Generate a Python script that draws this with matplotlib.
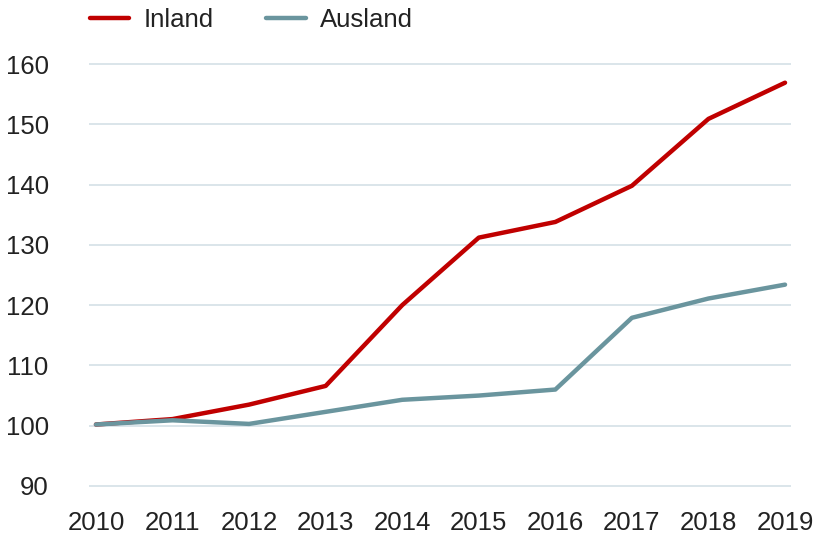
import matplotlib
matplotlib.use("Agg")
import matplotlib.pyplot as plt

years = [2010, 2011, 2012, 2013, 2014, 2015, 2016, 2017, 2018, 2019]
inland = [100.2, 101.1, 103.5, 106.6, 120.0, 131.2, 133.8, 139.8, 150.9, 156.9]
ausland = [100.2, 100.9, 100.3, 102.3, 104.3, 105.0, 106.0, 117.9, 121.1, 123.4]
yticks = [90, 100, 110, 120, 130, 140, 150, 160]

plt.rcParams['font.family'] = ['Liberation Sans', 'DejaVu Sans']

W, H = 815, 538
fig = plt.figure(figsize=(W/100, H/100), dpi=100)
left, right = 89, 791
top, bottom = 62.8, 487.2
ax = fig.add_axes([left/W, 1-bottom/H, (right-left)/W, (bottom-top)/H])

red = '#C00000'
teal = '#6A959E'
ax.plot(years, inland, color=red, lw=3.2, solid_capstyle='round', solid_joinstyle='round', label='Inland', zorder=3)
ax.plot(years, ausland, color=teal, lw=3.2, solid_capstyle='round', solid_joinstyle='round', label='Ausland', zorder=3)

ax.set_xlim(2009.909, 2019.078)
ax.set_ylim(89.8, 160.2)
ax.set_yticks(yticks)
ax.set_xticks(years)
ax.set_xticklabels([str(y) for y in years])
for y in yticks:
    ax.axhline(y, color='#D8E3E8', lw=1.3, zorder=1)
for s in ax.spines.values():
    s.set_visible(False)
ax.tick_params(axis='both', length=0, labelsize=18.5, colors='#222222')
ax.tick_params(axis='y', pad=29)
ax.tick_params(axis='x', pad=17)

leg = fig.legend(loc='upper left', bbox_to_anchor=(87/W, 1 - 5/H), ncol=2, frameon=False,
                 fontsize=18.5, handlelength=1.55, handletextpad=0.55, columnspacing=2.05,
                 borderaxespad=0.0, borderpad=0.1)
for t in leg.get_texts():
    t.set_color('#222222')

fig.savefig('out.png', dpi=100)
